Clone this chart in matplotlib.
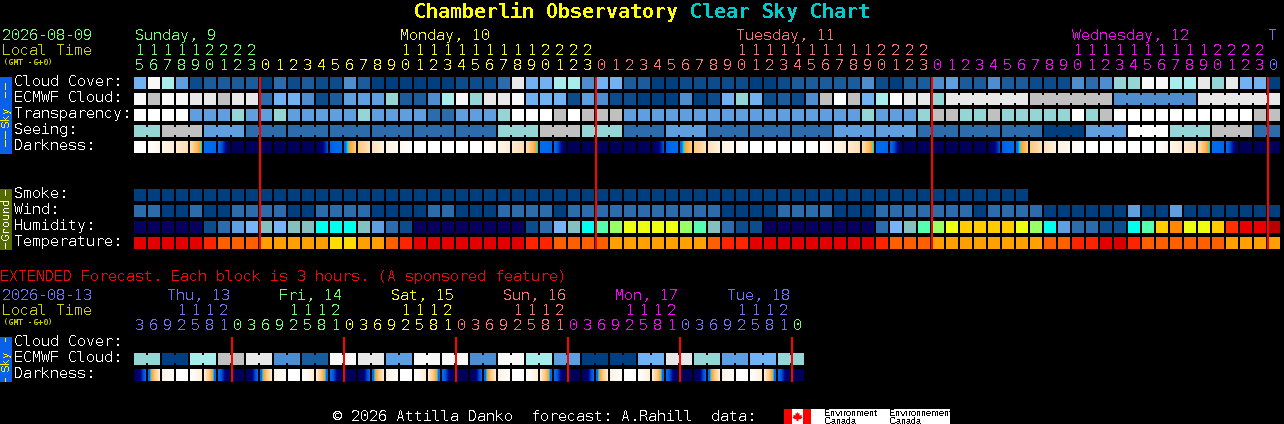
import numpy as np
import matplotlib
matplotlib.use("Agg")
import matplotlib.pyplot as plt
from matplotlib.colors import LinearSegmentedColormap

# hinted glyphs without antialiasing come out with one pixel stems, like the bitmap font of the chart
plt.rcParams["text.hinting"] = "native"
plt.rcParams["text.hinting_factor"] = 1

# sky classes, index 0 = clear/dark blue up to 12 = white
SKY_COLORS = ["#003f7f", "#0c4c8c", "#1a5c9c", "#2c6cac", "#4d8dd0", "#5f9fe0", "#72b2f2",
              "#95d5d5", "#a8ecec", "#e8e8e8", "#c0c0c0", "#f8f8f8", "#ffffff"]
HUMIDITY_COLORS = ["#08005f", "#0c4c8c", "#2c6cac", "#5f9fe0", "#78b4f5", "#85c0c0", "#00ffee", "#55ffb0",
                   "#99ff66", "#eeff11", "#ffcc00", "#ff8800", "#ff3000", "#e80000", "#b80000"]
TEMP_COLORS = ["#d80000", "#e40000", "#ff2400", "#ff5f00", "#ff9f00", "#ffdd00"]

cloud_cover = [6, 11, 8, 5, 1, 2, 2, 2, 2, 0,
               3, 1, 2, 1, 1, 4, 2, 0, 0, 0, 0,
               0, 0, 1, 1, 1, 3, 9, 6, 6, 8, 8, 4,
               6, 6, 2, 2, 0, 0, 1, 1, 1, 1, 1, 0, 0, 1, 2, 2, 2, 2, 2,
               4, 1, 0, 2, 2, 4, 5, 2, 2, 4, 2, 2, 1, 1, 1, 4, 3, 4, 7, 7, 11, 11, 8, 8, 9, 7, 9, 6, 6, 0]
ecmwf_cloud = [11, 10, 11, 11, 9, 9, 10, 9, 9,
               3, 6, 6, 4, 1, 2, 5, 5, 5, 7, 2, 2,
               4, 8, 11, 7, 9, 9, 11, 6, 6, 6, 1, 5, 4, 1, 1, 0, 0, 0, 4, 0, 1, 6, 7, 6, 1, 2, 1, 4, 10, 12, 10,
               6, 8, 12, 9, 9, 7,
               9, 9, 9, 9, 9, 9, 10, 10, 10, 10, 10, 10, 4, 4, 4, 4, 4, 4, 9, 9, 9, 9, 9, 9]
transparency = [12, 12, 12, 12,
                5, 5, 5, 7, 5, 5, 7, 5, 5, 5, 5, 5, 7, 5, 5, 5, 5,
                3, 3, 5, 5, 5, 7, 12, 12, 12, 10, 12, 10, 10, 10,
                5, 5, 5, 5, 5, 5, 5, 5, 5, 5, 5, 5, 5, 5, 5, 5, 5,
                7, 5, 5, 5, 7, 10, 10, 7, 7, 10, 7, 7, 7, 7, 7, 12, 7, 10,
                12, 12, 12, 12, 12, 12, 12, 12, 12, 12, 10, 10]
# seeing is a 3 hour product: one value per joined block
seeing_blocks = [7, 10, 5, 3, 3, 3, 3, 3, 3, 7, 10, 7, 3, 5, 3, 3, 3, 5, 5, 3, 3, 3, 0, 5, 12, 7, 10, 3]
seeing_spans = [2, 3, 3, 3, 3, 3, 3, 3, 3, 3, 3, 3, 3, 3, 3, 3, 3, 3, 3, 3, 3, 3, 3, 3, 3, 3, 3, 2]
smoke = [0] * 64
wind = [3, 3, 0, 0, 3, 0, 0, 3, 3, 3, 3, 0, 0, 3, 3, 3, 3, 0, 0, 0, 0,
        3, 3, 0, 0, 0, 3, 3, 3, 3, 0, 3, 3, 3, 3, 3, 3, 3, 3, 3, 3, 3, 0, 0, 0, 0, 3, 3, 3, 3, 0, 0,
        0, 3, 3, 3, 3, 3, 3, 3, 0, 3, 3, 3, 3, 0, 0, 0, 0, 0, 0, 5, 0, 0, 5, 0, 0, 0, 0, 0, 0, 0]
humidity = [0, 0, 0, 0, 0, 1, 2, 3, 4, 5, 4, 5, 5, 6, 6, 6, 5, 3, 2, 1, 0,
            0, 0, 0, 0, 0, 0, 0, 1, 2, 4, 5, 6, 7, 8, 9, 9, 9, 9, 8, 7, 5, 2, 1, 1, 0, 0, 0, 0, 0, 0, 0,
            0, 2, 4, 5, 7, 8, 9, 10, 10, 10, 10, 9, 8, 6, 3, 2, 2, 1, 1, 6, 7, 10, 11, 9, 9, 10, 12, 13, 13, 14]
temperature = [1, 1, 1, 1, 1, 2, 3, 3, 3, 4, 4, 4, 4, 4, 5, 5, 4, 4, 3, 2, 1,
               1, 1, 1, 1, 1, 1, 1, 2, 2, 3, 3, 3, 3, 4, 4, 4, 4, 4, 4, 4, 3, 2, 2, 1, 1, 1, 1, 1, 1, 1, 1,
               1, 2, 3, 3, 3, 4, 4, 4, 4, 4, 4, 4, 4, 3, 3, 2, 2, 1, 0, 2, 3, 3, 3, 3, 3, 3, 4, 4, 4, 4]

# darkness: value at the left and right edge of each block, 0 = daylight, 1 = full dark
darkness = [(0, 0), (0, .07), (.07, .13), (.13, .2), (.2, .46), (.52, .58), (.56, .82), (.88, .92), (.92, .92),
            (.92, .92), (.92, .92), (.92, .92), (.92, .88), (.88, .64), (.6, .52), (.52, .3), (.3, .18), (.18, .1), (.1, .05), (.05, 0),
            (0, 0), (0, 0), (0, 0), (0, 0), (0, 0), (0, .07), (.07, .13), (.13, .2), (.2, .46), (.52, .58), (.56, .82), (.88, .92), (.92, .92),
            (.92, .92), (.92, .92), (.92, .92), (.92, .88), (.88, .64), (.6, .52), (.52, .3), (.3, .18), (.18, .1), (.1, .05), (.05, 0),
            (0, 0), (0, 0), (0, 0), (0, 0), (0, 0), (0, .07), (.07, .13), (.13, .2), (.2, .46), (.52, .58), (.56, .82), (.88, .92), (.92, .92),
            (.92, .92), (.92, .92), (.92, .92), (.92, .88), (.88, .64), (.6, .52), (.52, .3), (.3, .18), (.18, .1), (.1, .05), (.05, 0),
            (0, 0), (0, 0), (0, 0), (0, 0), (0, 0), (0, .07), (.07, .13), (.13, .2), (.2, .46), (.52, .58), (.56, .82), (.88, .92), (.92, .92),
            (.92, .92)]

hours = [15, 16, 17, 18, 19, 20, 21, 22, 23] + list(range(24)) * 3 + [0]
day_names = ["Sunday, 9", "Monday, 10", "Tuesday, 11", "Wednesday, 12", "T"]
day_label_cols = [0, 19, 43, 67, 81]
day_start_cols = [0, 9, 33, 57, 81]
day_colors = ["#70ff70", "#ffff00", "#ff7070", "#ff00ff", "#7070ff"]

ext_cloud = [7, 0, 8, 10, 9, 4, 2, 11, 9, 5, 11, 11, 4, 11, 8, 5, 0, 0, 6, 9, 7, 5, 6, 7]
ext_darkness = [(.92, .58), (.54, .12), (.1, 0), (0, 0), (0, .12), (.12, .54), (.54, .88), (.92, .92)] * 6
ext_hours = [3, 6, 9, 12, 15, 18, 21] + [0, 3, 6, 9, 12, 15, 18, 21] * 5 + [0]
ext_days = ["Thu, 13", "Fri, 14", "Sat, 15", "Sun, 16", "Mon, 17", "Tue, 18"]
ext_day_colors = ["#7070ff", "#70ff70", "#ffff00", "#ff7070", "#ff00ff", "#7070ff", "#70ff70"]

GRID_LEFT = 134
PITCH = 14
CELL = 12
MONO = "DejaVu Sans Mono"
DATE_GREEN = "#70ff70"
OLIVE_TEXT = "#cccc00"

dark_cmap = LinearSegmentedColormap.from_list(
    "darkness",
    [(0, "#ffffff"), (.1, "#fff2e0"), (.2, "#ffdcae"), (.3, "#ffc880"), (.38, "#ffb040"), (.42, "#ff9e30"),
     (.45, "#30e0d0"), (.47, "#00b0ff"), (.5, "#0070e8"), (.58, "#0066ee"), (.64, "#0050d0"), (.74, "#000080"),
     (.85, "#000060"), (1, "#000050")],
    N=512,
)


def cell_x(col):
    return GRID_LEFT + PITCH * np.asarray(col)


def draw_cells(ax, y, levels, colors, cols=None):
    cols = np.arange(len(levels)) if cols is None else cols
    ax.bar(cell_x(cols), CELL, width=CELL, bottom=y, align="edge",
           color=[colors[v] for v in levels], linewidth=0, antialiased=False)


def draw_joined(ax, y, block_values, spans, colors, first_col=0):
    # cells of one block share a colour and are tied by a narrow neck
    col = first_col
    for value, span in zip(block_values, spans):
        cols = np.arange(col, col + span)
        draw_cells(ax, y, [value] * span, colors, cols)
        if span > 1:
            ax.bar(cell_x(cols[:-1]) + CELL, CELL - 4, width=PITCH - CELL, bottom=y + 2, align="edge",
                   color=colors[value], linewidth=0, antialiased=False)
        col += span


def draw_darkness(ax, y, edges):
    for col, (left, right) in enumerate(edges):
        x = cell_x(col)
        ax.imshow(np.linspace(left, right, CELL)[None, :], cmap=dark_cmap, vmin=0, vmax=1, aspect="auto",
                  interpolation="nearest", extent=(x, x + CELL, y + CELL, y))


def label(ax, x, y, s, color="white", size=10.77, **kw):
    kw.setdefault("family", MONO)
    return ax.text(x, y - 0.3, s, color=color, fontsize=size, va="baseline", antialiased=False, **kw)


def draw_side_bar(ax, top, bottom, color, text, text_color, dashes):
    ax.bar(0, bottom - top, width=12, bottom=top, align="edge", color=color, linewidth=0, antialiased=False)
    ax.text(6, (top + bottom) / 2 + (1 if text == "Sky" else 0), text, color=text_color, fontsize=8.2, family="DejaVu Sans Mono",
            rotation=90, ha="center", va="center", antialiased=False)
    for y0, y1 in dashes:
        ax.bar(5, y1 - y0, width=1, bottom=y0, align="edge", color=text_color, linewidth=0, antialiased=False)


def draw_hour_labels(ax, base_y, hour_list, colors_by_col):
    for col, hour in enumerate(hour_list):
        x = cell_x(col) + CELL / 2
        c = colors_by_col[col]
        if hour >= 10:
            label(ax, x, base_y - 15, str(hour // 10), c, ha="center")
        label(ax, x, base_y, str(hour % 10), c, ha="center")


def gmt_label(ax, y):
    ax.text(3, y, "(GMT -6+0)", color=OLIVE_TEXT, fontsize=5.8, family=MONO, va="baseline")


def main():
    fig = plt.figure(figsize=(12.84, 4.24), dpi=100, facecolor="black")
    ax = fig.add_axes([0, 0, 1, 1])
    ax.set_facecolor("black")

    # title
    tx = 414
    ax.text(tx, 18, "Chamberlin Observatory", color="#ffff00", fontsize=14.35, family="DejaVu Sans Mono",
            weight="bold", va="baseline", antialiased=False)
    ax.text(tx + 23 * 12, 18, "Clear Sky Chart", color="#00cccc", fontsize=14.35, family="DejaVu Sans Mono",
            weight="bold", va="baseline", antialiased=False)

    # header left
    label(ax, 2, 40, "2026-08-09", DATE_GREEN)
    label(ax, 2, 55, "Local Time", OLIVE_TEXT)
    gmt_label(ax, 65)

    for k, (name, col, c) in enumerate(zip(day_names, day_label_cols, day_colors)):
        label(ax, cell_x(col) + (1 if k == 0 else 0), 40, name, c)
    col_colors = []
    for col in range(len(hours)):
        day = np.searchsorted(day_start_cols, col, side="right") - 1
        col_colors.append(day_colors[day])
    draw_hour_labels(ax, 70, hours, col_colors)

    # main sky rows
    sky_labels = ["Cloud Cover:", "ECMWF Cloud:", "Transparency:", "Seeing:", "Darkness:"]
    sky_rows = [77, 93, 109, 125, 141]
    for s, y in zip(sky_labels, sky_rows):
        label(ax, 14, y + 9, s)
    draw_cells(ax, sky_rows[0], cloud_cover, SKY_COLORS)
    draw_cells(ax, sky_rows[1], ecmwf_cloud[:58], SKY_COLORS)
    draw_joined(ax, sky_rows[1], ecmwf_cloud[58::6], [6, 6, 6, 6], SKY_COLORS, first_col=58)
    draw_cells(ax, sky_rows[2], transparency, SKY_COLORS)
    draw_joined(ax, sky_rows[3], seeing_blocks, seeing_spans, SKY_COLORS)
    draw_darkness(ax, sky_rows[4], darkness)

    # ground rows
    ground_labels = ["Smoke:", "Wind:", "Humidity:", "Temperature:"]
    ground_rows = [189, 205, 221, 237]
    for s, y in zip(ground_labels, ground_rows):
        label(ax, 14, y + 9, s)
    draw_cells(ax, ground_rows[0], smoke, SKY_COLORS)
    draw_cells(ax, ground_rows[1], wind, SKY_COLORS)
    draw_cells(ax, ground_rows[2], humidity, HUMIDITY_COLORS)
    draw_cells(ax, ground_rows[3], temperature, TEMP_COLORS)

    # midnight lines
    ax.bar(cell_x(np.array(day_start_cols[1:])), 172, width=2, bottom=77, align="center", color="#ff0000",
           linewidth=0, antialiased=False, zorder=3)

    draw_side_bar(ax, 77, 154, "#0a60e8", "Sky", "#ffee00", [(83, 90), (92, 98), (131, 139), (140, 147)])
    draw_side_bar(ax, 189, 250, "#556b00", "Ground", "#ffffff", [(190, 196), (243, 249)])

    # extended forecast
    label(ax, 0, 281, "EXTENDED Forecast. Each block is 3 hours. (A sponsored feature)", "#ff0000")
    label(ax, 2, 300, "2026-08-13", "#7070ff")
    label(ax, 2, 315, "Local Time", OLIVE_TEXT)
    gmt_label(ax, 325)
    for k, (name, c) in enumerate(zip(ext_days, ext_day_colors)):
        label(ax, cell_x(2 + 8 * k) + 5, 300, name, c)
    ext_col_colors = [ext_day_colors[(col + 1) // 8] for col in range(len(ext_hours))]
    draw_hour_labels(ax, 330, ext_hours, ext_col_colors)

    ext_labels = ["Cloud Cover:", "ECMWF Cloud:", "Darkness:"]
    ext_rows = [337, 353, 369]
    for s, y in zip(ext_labels, ext_rows):
        label(ax, 14, y + 9, s)
    draw_joined(ax, ext_rows[1], ext_cloud, [2] * len(ext_cloud), SKY_COLORS)
    draw_darkness(ax, ext_rows[2], ext_darkness)
    ax.bar(cell_x(np.arange(7, 48, 8)), 45, width=2, bottom=337, align="center", color="#ff0000",
           linewidth=0, antialiased=False, zorder=3)
    draw_side_bar(ax, 337, 382, "#0a60e8", "Sky", "#ffee00", [(338, 342), (378, 382)])

    # footer and logo
    label(ax, 333, 421, "\u00a9 2026 Attilla Danko  forecast: A.Rahill  data:")
    ax.bar(811, 15, width=139, bottom=409, align="edge", color="white", linewidth=0, antialiased=False)
    ax.bar(784, 15, width=27, bottom=409, align="edge", color="#ff0000", linewidth=0, antialiased=False)
    ax.bar(792, 15, width=11, bottom=409, align="edge", color="white", linewidth=0, antialiased=False, zorder=2)
    leaf = np.array([(0, -5), (1, -3), (2, -4), (2, -1), (4, -2), (4, 0), (5, 1), (3, 3), (1, 3), (1, 5),
                     (-1, 5), (-1, 3), (-3, 3), (-5, 1), (-4, 0), (-4, -2), (-2, -1), (-2, -4), (-1, -3)], dtype=float)
    ax.fill(797.5 + leaf[:, 0], 416.5 + leaf[:, 1] * 0.9, color="#ff0000", linewidth=0, zorder=3)
    for x, word in [(824.5, "Environment"), (889.5, "Environnement")]:
        ax.text(x, 416, word, color="black", fontsize=6.4, family="Liberation Sans", va="baseline", zorder=3, antialiased=False)
        ax.text(x, 424, "Canada", color="black", fontsize=6.4, family="Liberation Sans", va="baseline", zorder=3, antialiased=False)

    ax.set_xlim(0, 1284)
    ax.set_ylim(424, 0)
    ax.axis("off")
    fig.savefig("out.png", dpi=100, facecolor="black")


if __name__ == "__main__":
    main()
